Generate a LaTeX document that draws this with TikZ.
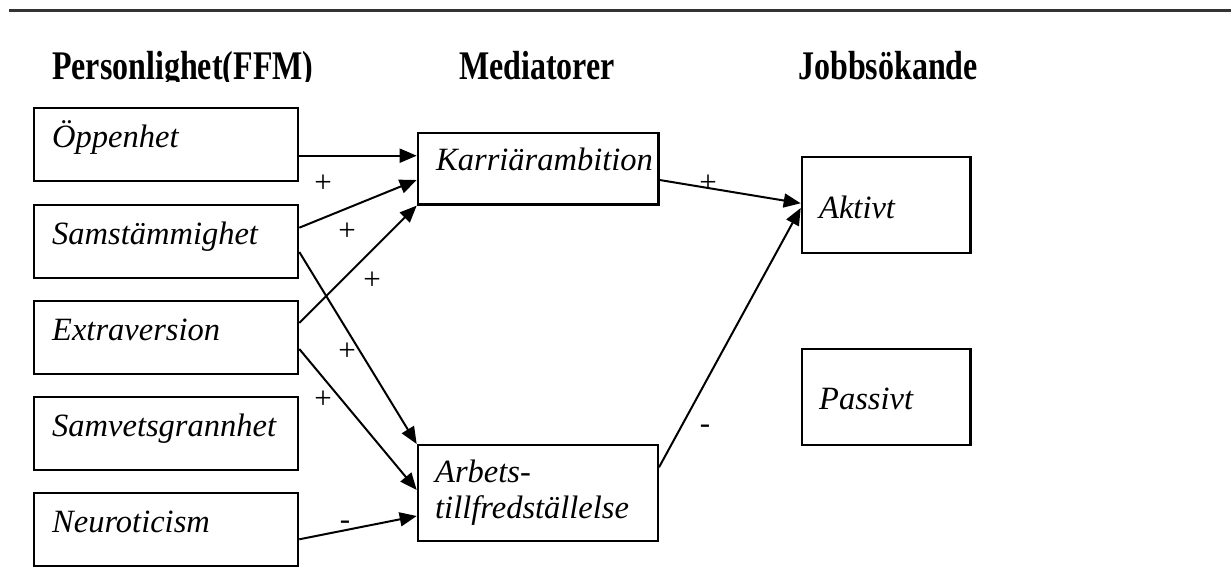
\documentclass[tikz,border=0pt]{standalone}
\usepackage{fontspec}
\setmainfont{Liberation Serif}
\usetikzlibrary{arrows.meta,calc}
\begin{document}
\begin{tikzpicture}[x=1pt,y=-1pt,
  box/.style={draw=black,line width=2.3pt,minimum width=264pt,minimum height=73pt,inner sep=0pt,anchor=north west},
  lbl/.style={anchor=base west,inner sep=0pt,font=\fontsize{32.5}{38}\selectfont\itshape},
  head/.style={anchor=base west,inner sep=0pt,font=\fontsize{32}{38}\selectfont\bfseries},
  sgn/.style={inner sep=0pt,font=\fontsize{31}{34}\selectfont},
  conn/.style={line width=2pt,-{Triangle[length=17pt,width=14pt]}},
  plain/.style={line width=2pt}]
\useasboundingbox (0,0) rectangle (1231,583);
% top rule
\coordinate (r1) at (9,10.7);
\coordinate (r2) at (1231,10.7);
\draw[line width=3pt,black!80] (r1) -- (r2);
% headings (clipped at the bottom as in the reference)
\begin{scope}
\clip (0,20) rectangle (1231,82);
\node[head] (h1) at (52,80) {\scalebox{1}[1.27]{Personlighet(FFM)}};
\node[head] (h2) at (459,80) {\scalebox{1}[1.27]{Mediatorer}};
\node[head] (h3) at (798,80) {\scalebox{1}[1.27]{Jobbsökande}};
\end{scope}
% left column
\node[box] (oppen) at (33,107) {};
\node[box] (sam)   at (33,204) {};
\node[box] (extra) at (33,300) {};
\node[box] (samv)  at (33,396) {};
\node[box] (neuro) at (33,492) {};
\node[lbl] (toppen) at (52,147.5) {Öppenhet};
\node[lbl] (tsam)   at (52,244.5) {Samstämmighet};
\node[lbl] (textra) at (52,340) {Extraversion};
\node[lbl] (tsamv)  at (52,436.5) {Samvetsgrannhet};
\node[lbl] (tneuro) at (52,532.5) {Neuroticism};
% mediators
\node[box,minimum width=240.6pt,minimum height=71.6pt] (karr) at (416.7,131.7) {};
\node[box,minimum width=240pt,minimum height=96pt] (arb) at (416.7,444) {};
\node[lbl] (tkarr) at (436,171) {Karriärambition};
\node[lbl] (tarb1) at (435,482.5) {Arbets-};
\node[lbl] (tarb2) at (435,518.5) {tillfredställelse};
% outcomes
\node[box,minimum width=168.6pt,minimum height=96pt] (akt) at (800.7,155.7) {};
\node[box,minimum width=168.6pt,minimum height=96pt] (pass) at (800.7,347.7) {};
\node[lbl] (takt) at (819,218.5) {Aktivt};
\node[lbl] (tpass) at (819,409.5) {Passivt};
% connectors
\draw[conn] ([yshift=-48.7pt]oppen.north east) -- ([yshift=-24pt]karr.north west);
\draw[conn] ([yshift=-23.7pt]sam.north east) -- ([yshift=-48.3pt]karr.north west);
\draw[conn] ([yshift=-23pt]extra.north east) -- (karr.south west);
\draw[conn] ([yshift=-48pt]sam.north east) -- (arb.north west);
\draw[conn] ([yshift=-49pt]extra.north east) -- ([yshift=-46pt]arb.north west);
\draw[conn] ([yshift=-47.3pt]neuro.north east) -- ([yshift=-72pt]arb.north west);
\draw[conn] ([yshift=-48.3pt]karr.north east) -- ([yshift=-47.6pt]akt.north west);
\draw[conn] ([yshift=-23.3pt]arb.north east) -- ([yshift=-52.3pt]akt.north west);
% signs
\node[sgn] (s1) at (323,184) {+};
\node[sgn] (s2) at (347,232) {+};
\node[sgn] (s3) at (372,281) {+};
\node[sgn] (s4) at (347,352) {+};
\node[sgn] (s5) at (323,400) {+};
\node[sgn] (s6) at (345,525) {-};
\node[sgn] (s7) at (708,184) {+};
\node[sgn] (s8) at (705,429) {-};
\end{tikzpicture}
\end{document}
